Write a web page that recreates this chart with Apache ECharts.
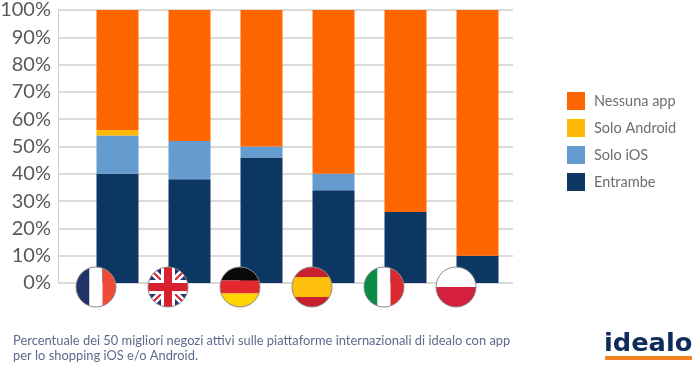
<!DOCTYPE html>
<html><head><meta charset="utf-8">
<style>html,body{margin:0;padding:0;background:#fff}#c{width:700px;height:367px}</style>
<script src="https://cdn.jsdelivr.net/npm/echarts@6/dist/echarts.min.js"></script>
</head><body><div id="c"></div>
<script>
const countries = ['France','UK','Germany','Spain','Italy','Poland'];
const entrambe  = [40,38,46,34,26,10];
const soloIOS   = [14,14,4,6,0,0];
const soloAndroid = [2,0,0,0,0,0];
const nessuna   = [44,48,50,60,74,90];
const legendNames = ['Nessuna app','Solo Android','Solo iOS','Entrambe'];
const captionLines = ['Percentuale dei 50 migliori negozi attivi sulle piattaforme internazionali di idealo con app','per lo shopping iOS e/o Android.'];

const FLAGS = {
  France:[['v',-20,13.5,'#1f3366'],['v',-6.5,13,'#ffffff'],['v',6.5,13.5,'#ee4b39']],
  Germany:[['h',-20,13.5,'#0a0a0a'],['h',-6.5,13,'#e5282d'],['h',6.5,13.5,'#ffd500']],
  Spain:[['h',-20,10,'#c8202e'],['h',-10,20,'#fdbf0a'],['h',10,10,'#c8202e']],
  Italy:[['v',-20,13.5,'#0b8c46'],['v',-6.5,13,'#ffffff'],['v',6.5,13.5,'#d92b30']],
  Poland:[['h',-20,20,'#ffffff'],['h',0,3,'#f3dfe0'],['h',0,20,'#d41f3e']]
};
function flagChildren(name){
  const R=20, kids=[];
  if(name==='UK'){
    kids.push({type:'rect',shape:{x:-R,y:-R,width:2*R,height:2*R},style:{fill:'#27346f'}});
    kids.push({type:'line',shape:{x1:-R,y1:-R,x2:R,y2:R},style:{stroke:'#fff',lineWidth:7}});
    kids.push({type:'line',shape:{x1:-R,y1:R,x2:R,y2:-R},style:{stroke:'#fff',lineWidth:7}});
    kids.push({type:'line',shape:{x1:-R,y1:-R,x2:R,y2:R},style:{stroke:'#d9202f',lineWidth:2}});
    kids.push({type:'line',shape:{x1:-R,y1:R,x2:R,y2:-R},style:{stroke:'#d9202f',lineWidth:2}});
    kids.push({type:'rect',shape:{x:-7,y:-R,width:14,height:2*R},style:{fill:'#fff'}});
    kids.push({type:'rect',shape:{x:-R,y:-7,width:2*R,height:14},style:{fill:'#fff'}});
    kids.push({type:'rect',shape:{x:-4,y:-R,width:8,height:2*R},style:{fill:'#d9202f'}});
    kids.push({type:'rect',shape:{x:-R,y:-4,width:2*R,height:8},style:{fill:'#d9202f'}});
  } else {
    FLAGS[name].forEach(s=>{
      kids.push({type:'rect',shape:s[0]==='v'?{x:s[1],y:-R,width:s[2],height:2*R}:{x:-R,y:s[1],width:2*R,height:s[2]},style:{fill:s[3]}});
    });
  }
  return kids;
}
const bar = (name,vals,color)=>({type:'bar',name,stack:'a',data:vals,barWidth:42,xAxisIndex:1,yAxisIndex:1,
  itemStyle:{color,borderWidth:0},emphasis:{disabled:true},animation:false});
const chart = echarts.init(document.getElementById('c'),null,{renderer:'canvas'});
chart.setOption({
  animation:false,
  backgroundColor:'#ffffff',
  grid:[{left:58,right:187,top:10,bottom:84,outerBoundsMode:'none'},{left:81.5,right:186.5,top:10,bottom:84,outerBoundsMode:'none'}],
  xAxis:[
    {gridIndex:0,type:'value',min:0,max:1,show:false},
    {gridIndex:1,type:'category',data:countries,axisLine:{show:false},axisTick:{show:false},axisLabel:{show:false},splitLine:{show:false}}
  ],
  yAxis:[
    {gridIndex:0,type:'value',min:0,max:100,interval:10,
     axisLine:{show:true,lineStyle:{color:'#cfcfcf',width:1}},axisTick:{show:false},
     axisLabel:{formatter:'{value}%',fontFamily:'Lato',fontSize:20,color:'#595959',margin:7},
     splitLine:{show:true,lineStyle:{color:'#cfcfcf',width:1.5}}},
    {gridIndex:1,type:'value',min:0,max:100,interval:10,show:false,splitLine:{show:false}}
  ],
  legend:{orient:'vertical',left:562,top:87,itemWidth:18,itemHeight:18,itemGap:9,icon:'rect',
    data:legendNames,selectedMode:false,
    textStyle:{fontFamily:'Lato',fontSize:14.5,color:'#6e6e6e',padding:[0,0,0,4]}},
  series:[
    bar('Entrambe',entrambe,'#0c3763'),
    bar('Solo iOS',soloIOS,'#659ccf'),
    bar('Solo Android',soloAndroid,'#ffb900'),
    bar('Nessuna app',nessuna,'#ff6600'),
    {type:'custom',z:10,silent:true,clip:false,animation:false,xAxisIndex:1,yAxisIndex:1,
     data:countries.map((c,i)=>[i,0]),
     encode:{x:0,y:1},
     renderItem(params,api){
       const p=api.coord([api.value(0),0]);
       const name=countries[params.dataIndex];
       return {type:'group',x:p[0]-21.5,y:p[1]+4,children:[
         {type:'group',clipPath:{type:'circle',shape:{cx:0,cy:0,r:20}},children:flagChildren(name)},
         {type:'circle',shape:{cx:0,cy:0,r:20},style:{fill:'none',stroke:'#8a8a8a',lineWidth:1}}
       ]};
     }}
  ],
  graphic:[
    {type:'text',left:13,top:334,silent:true,style:{text:captionLines.join('\n'),fontFamily:'Lato',fontSize:12.9,lineHeight:14.5,fill:'#5b6b8c'}},
    {type:'text',x:604,y:333,scaleX:1.07,silent:true,style:{text:'idealo',fontFamily:'DejaVu Sans',fontWeight:'bold',fontSize:24,fill:'#0f2b5b'}},
    {type:'rect',left:605,top:356,shape:{width:87,height:4},style:{fill:'#f58220'},silent:true}
  ]
});
</script></body></html>
